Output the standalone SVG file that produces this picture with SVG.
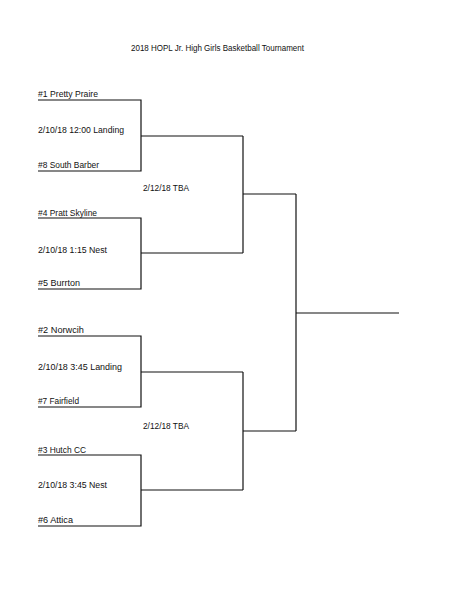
<svg xmlns="http://www.w3.org/2000/svg" width="464" height="600" viewBox="0 0 464 600">
<style>
text{font-family:"Liberation Sans","DejaVu Sans",sans-serif;font-size:8.5px;fill:#111}
.ln{stroke:#111;stroke-width:1.2;fill:none}
</style>
<rect width="464" height="600" fill="#fff"/>
<text id="title" x="131" y="51" textLength="173" lengthAdjust="spacingAndGlyphs">2018 HOPL Jr. High Girls Basketball Tournament</text>
<g id="connectors" class="ln">
<polyline points="38,100 141,100 141,171 38,171"/>
<line x1="141" y1="136" x2="243" y2="136"/>
<polyline points="38,218 141,218 141,289 38,289"/>
<line x1="141" y1="253" x2="243" y2="253"/>
<polyline points="38,336 141,336 141,407 38,407"/>
<line x1="141" y1="372" x2="243" y2="372"/>
<polyline points="38,455 141,455 141,526 38,526"/>
<line x1="141" y1="490" x2="243" y2="490"/>
<line x1="243" y1="136" x2="243" y2="253"/>
<line x1="243" y1="194" x2="296" y2="194"/>
<line x1="243" y1="372" x2="243" y2="490"/>
<line x1="243" y1="431" x2="296" y2="431"/>
<line x1="296" y1="194" x2="296" y2="431"/>
<line x1="296" y1="313" x2="399" y2="313"/>
</g>
<g id="team1"><text x="38" y="97" textLength="60" lengthAdjust="spacingAndGlyphs">#1 Pretty Praire</text></g>
<g id="game1"><text x="38" y="133" textLength="86" lengthAdjust="spacingAndGlyphs">2/10/18 12:00 Landing</text></g>
<g id="team8"><text x="38" y="168" textLength="61" lengthAdjust="spacingAndGlyphs">#8 South Barber</text></g>
<g id="semi1"><text x="143" y="191" textLength="46" lengthAdjust="spacingAndGlyphs">2/12/18 TBA</text></g>
<g id="team4"><text x="38" y="216" textLength="59" lengthAdjust="spacingAndGlyphs">#4 Pratt Skyline</text></g>
<g id="game2"><text x="38" y="253" textLength="69" lengthAdjust="spacingAndGlyphs">2/10/18 1:15 Nest</text></g>
<g id="team5"><text x="38" y="286" textLength="42" lengthAdjust="spacingAndGlyphs">#5 Burrton</text></g>
<g id="team2"><text x="38" y="333" textLength="46" lengthAdjust="spacingAndGlyphs">#2 Norwcih</text></g>
<g id="game3"><text x="38" y="370" textLength="84" lengthAdjust="spacingAndGlyphs">2/10/18 3:45 Landing</text></g>
<g id="team7"><text x="38" y="404" textLength="41" lengthAdjust="spacingAndGlyphs">#7 Fairfield</text></g>
<g id="semi2"><text x="143" y="429" textLength="46" lengthAdjust="spacingAndGlyphs">2/12/18 TBA</text></g>
<g id="team3"><text x="38" y="453" textLength="48" lengthAdjust="spacingAndGlyphs">#3 Hutch CC</text></g>
<g id="game4"><text x="38" y="488" textLength="69" lengthAdjust="spacingAndGlyphs">2/10/18 3:45 Nest</text></g>
<g id="team6"><text x="38" y="523" textLength="35" lengthAdjust="spacingAndGlyphs">#6 Attica</text></g>
</svg>
